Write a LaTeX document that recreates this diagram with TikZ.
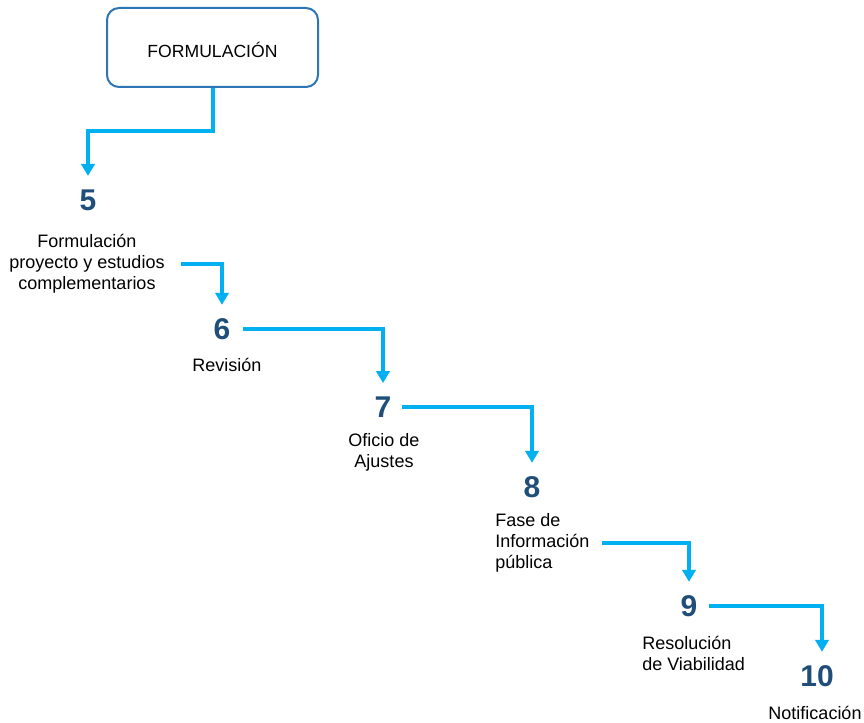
\documentclass[tikz,border=0pt]{standalone}
\usepackage{fontspec}
\setmainfont{Liberation Sans}
\usetikzlibrary{arrows.meta}
\definecolor{arrowc}{HTML}{00B0F0}
\definecolor{numc}{HTML}{1F4E79}
\definecolor{boxc}{HTML}{2E75B6}
\tikzset{
  numnode/.style={inner sep=0pt, font=\fontsize{22.5}{25}\selectfont\bfseries, text=numc},
  txtnode/.style={inner sep=0pt, align=center, font=\fontsize{13.5}{15.75}\selectfont},
  txtleft/.style={inner sep=0pt, align=left, font=\fontsize{13.5}{15.75}\selectfont},
  flow/.style={draw=arrowc, line width=3pt, -{Triangle[width=10pt,length=9pt]}, shorten >=10pt},
}
\begin{document}
\begin{tikzpicture}[x=0.75pt,y=-0.75pt]
\useasboundingbox (0,0) rectangle (864,723);
\node[draw=boxc, line width=1.5pt, rounded corners=9pt, minimum width=211*0.75pt, minimum height=79*0.75pt] (box) at (212.5,47.5) {};
\node[inner sep=0pt, font=\fontsize{13.2}{15.75}\selectfont] (boxt) at (212.5,50) {FORMULACIÓN};

\node[numnode] (n5) at (88,200) {5};
\node[txtnode] (t5) at (87,264) {Formulación\\proyecto y estudios\\complementarios};
\node[numnode] (n6) at (222,329) {6};
\node[txtnode] (t6) at (227,365) {Revisión};
\node[numnode] (n7) at (383,407) {7};
\node[txtnode] (t7) at (384,452) {Oficio de\\Ajustes};
\node[numnode] (n8) at (532,487) {8};
\node[txtleft, anchor=west] (t8) at (495,543) {Fase de\\Información\\pública};
\node[numnode] (n9) at (689,606) {9};
\node[txtleft, anchor=west] (t9) at (642,653.5) {Resolución\\de Viabilidad};
\node[numnode] (n10) at (817,676) {10};
\node[txtnode] (t10) at (815,713) {Notificación};

\draw[flow] (box.south) -- ++(0,43) -| (n5.north);
\draw[flow] ([xshift=16*0.75pt]t5.east) -| (n6.north);
\draw[flow] ([xshift=12*0.75pt]n6.east) -| (n7.north);
\draw[flow] ([xshift=10*0.75pt]n7.east) -| (n8.north);
\draw[flow] ([xshift=12*0.75pt]t8.east) -| (n9.north);
\draw[flow] ([xshift=11*0.75pt]n9.east) -| ([xshift=5*0.75pt]n10.north);
\end{tikzpicture}
\end{document}
